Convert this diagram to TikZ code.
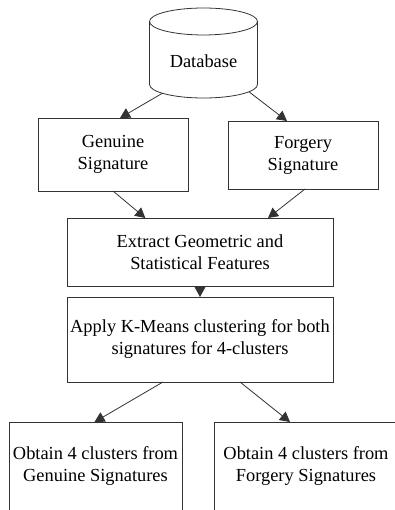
\documentclass[tikz,border=0pt]{standalone}
\usepackage{fontspec}
\setmainfont{Liberation Serif}
\usetikzlibrary{shapes.geometric,arrows.meta,positioning}

\begin{document}
\begin{tikzpicture}[
        x=0.75pt, y=-0.75pt,
        node distance=8.25pt,
        % Plain outlined boxes, serif text as in the source figure.
        box/.style={rectangle, draw=black!80, line width=0.6pt, fill=white,
            inner sep=0pt, outer sep=0pt,
            align=center, font=\fontsize{13.8}{16.5}\selectfont},
        store/.style={cylinder, shape border rotate=90, aspect=0.4,
            draw=black!80, line width=0.6pt, inner sep=0pt, outer sep=0pt,
            minimum width=81pt, minimum height=67.5pt, text height=12pt,
            font=\fontsize{13.8}{16.5}\selectfont},
        link/.style={draw=black!80, line width=0.6pt,
            -{Triangle[length=7.5pt,width=8pt]}}
    ]
        \useasboundingbox (0,0) rectangle (395,510);
        \clip (0,0) rectangle (395,510);

        \node[store, anchor=north] (db) at (203.5,8) {Database};
        \node[box, minimum width=112.5pt, minimum height=54.75pt] (gen) at (113,154.5) {Genuine\\Signature};
        \node[box, minimum width=112.5pt, minimum height=51pt] (forg) at (303,155) {Forgery\\Signature};
        \node[box, minimum width=199.5pt, minimum height=51pt] (feat) at (200,252) {Extract Geometric and\\Statistical Features};
        \node[box, minimum width=199.5pt, minimum height=63.75pt, below=of feat] (kmeans) {Apply K-Means clustering for both\\signatures for 4-clusters};
        \node[box, minimum width=129.75pt, minimum height=66.75pt] (cgen) at (95.5,466.5) {Obtain 4 clusters from\\Genuine Signatures};
        \node[box, minimum width=138pt, minimum height=66.75pt] (cforg) at (306,466.5) {Obtain 4 clusters from\\Forgery Signatures};

        % Connections
        \draw[link] (db.219) -- ([xshift=5.25pt]gen.north);
        \draw[link] (db.325) -- ([xshift=-12pt]forg.north);
        \draw[link] (gen.south) -- ([xshift=-41pt]feat.north);
        \draw[link] ([xshift=1.5pt]forg.south) -- ([xshift=51pt]feat.north);
        \draw[link] (feat) -- (kmeans);
        \draw[link] ([xshift=-27.75pt]kmeans.south) -- ([xshift=-0.75pt]cgen.north);
        \draw[link] ([xshift=30pt]kmeans.south) -- ([xshift=-12pt]cforg.north);
    \end{tikzpicture}
\end{document}
